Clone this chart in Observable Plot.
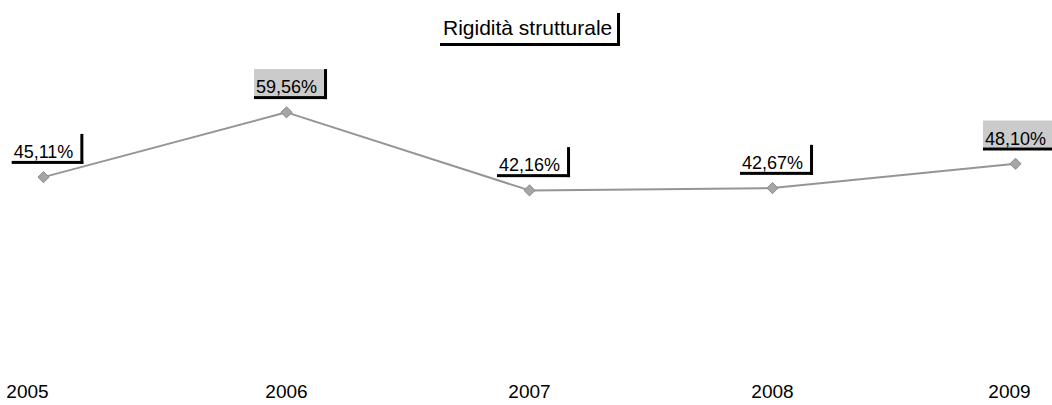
<!DOCTYPE html>
<html>
<head>
<meta charset="utf-8">
<script src="https://cdn.jsdelivr.net/npm/d3@7"></script>
<script src="https://cdn.jsdelivr.net/npm/@observablehq/plot@0.6"></script>
<style>
  html, body { margin: 0; padding: 0; background: #fff; }
  #wrap { position: relative; width: 1052px; height: 405px; overflow: hidden; font-family: "Liberation Sans", Arial, sans-serif; }
  #title {
    position: absolute; left: 440px; top: 13px;
    padding: 3px 5px 3px 3px;
    font-size: 21px; line-height: 24px; color: #000;
    border-right: 3px solid #000; border-bottom: 3px solid #000;
    white-space: nowrap;
  }
</style>
</head>
<body>
<div id="wrap">
  <div id="chart"></div>
  <div id="title">Rigidità strutturale</div>
</div>
<script>
const years = [2005, 2006, 2007, 2008, 2009];
const values = [45.11, 59.56, 42.16, 42.67, 48.10];
const highlightYears = [2006, 2009];

const data = years.map((year, i) => ({year, value: values[i]}));
const fmt = v => v.toFixed(2).replace(".", ",") + "%";
const firstYear = years[0], lastYear = years[years.length - 1];
const tickOpts = {x: "year", text: d => String(d.year), frameAnchor: "bottom", dy: 18, fontSize: 19, fill: "#000"};

const chart = Plot.plot({
  width: 1052,
  height: 405,
  marginLeft: 42,
  marginRight: 36,
  marginTop: 65,
  marginBottom: 26,
  style: {fontFamily: "'Liberation Sans', Arial, sans-serif", fontSize: "19px", color: "#000", background: "transparent"},
  x: {type: "point", domain: years, padding: 0, axis: null},
  y: {domain: [0, 70], axis: null},
  marks: [
    Plot.line(data, {x: "year", y: "value", stroke: "#959595", strokeWidth: 2}),
    Plot.dot(data, {x: "year", y: "value", symbol: "diamond2", r: 5, fill: "#a5a5a5", stroke: "#8a8a8a", strokeWidth: 1}),
    // year tick labels (edge labels pulled inward as in the reference)
    Plot.text(data.filter(d => d.year !== firstYear && d.year !== lastYear), tickOpts),
    Plot.text(data.filter(d => d.year === firstYear), {...tickOpts, dx: -16}),
    Plot.text(data.filter(d => d.year === lastYear), {...tickOpts, dx: -6}),
    // value labels
    Plot.text(data, {x: "year", y: "value", text: d => fmt(d.value), dy: -25, fontSize: 18, fill: "#000"})
  ]
});

document.getElementById("chart").appendChild(chart);

// Label boxes with a black "shadow" on right and bottom, derived from rendered text extents
const ns = "http://www.w3.org/2000/svg";
const labelGroups = chart.querySelectorAll('g[aria-label="text"]');
const group = labelGroups[labelGroups.length - 1];
const texts = group.querySelectorAll("text");
texts.forEach((t, i) => {
  const bb = t.getBBox();
  const tr = t.getAttribute("transform");
  const rx = bb.x - 2, ry = bb.y - 8, w = bb.width + 9, h = bb.height + 7;
  const mk = (x, y, width, height, fill) => {
    const r = document.createElementNS(ns, "rect");
    r.setAttribute("x", x); r.setAttribute("y", y);
    r.setAttribute("width", width); r.setAttribute("height", height);
    r.setAttribute("fill", fill);
    if (tr) r.setAttribute("transform", tr);
    group.insertBefore(r, t);
  };
  if (highlightYears.includes(data[i].year)) mk(rx, ry, w, h, "#cbcbcb");
  mk(rx, ry + h, w + 3, 3, "#000");
  mk(rx + w, ry, 3, h + 3, "#000");
});
</script>
</body>
</html>
